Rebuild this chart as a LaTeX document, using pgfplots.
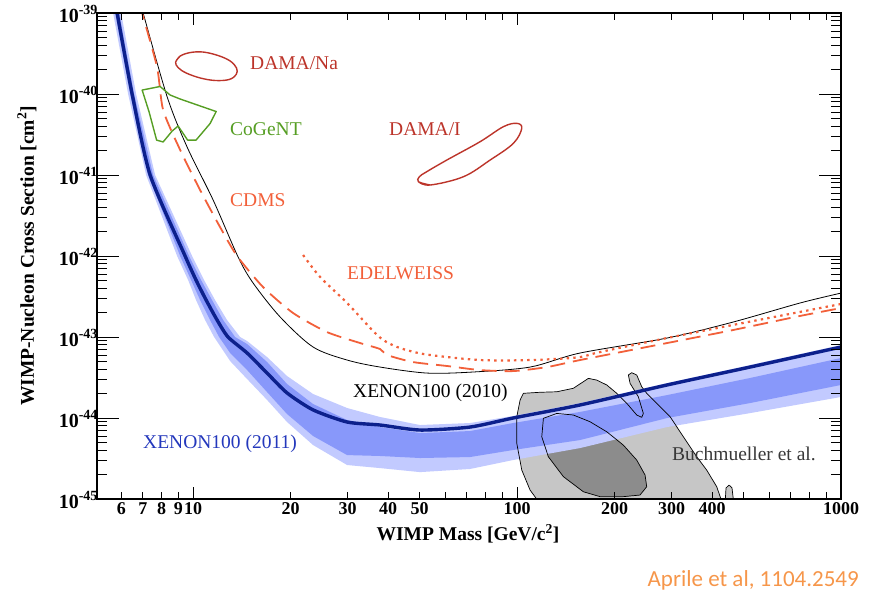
\documentclass[border=0pt]{standalone}
\usepackage{fontspec}
\setmainfont{Liberation Serif}
\newfontfamily\calibri{Carlito}
\usepackage{pgfplots}
\pgfplotsset{compat=1.18}

\definecolor{xenonblue}{RGB}{12,32,140}
\definecolor{bandlight}{RGB}{194,202,255}
\definecolor{banddark}{RGB}{136,152,250}
\definecolor{damared}{RGB}{188,52,42}
\definecolor{cogeant}{RGB}{86,158,36}
\definecolor{cdmsorange}{RGB}{242,96,58}
\definecolor{xenonlabel}{RGB}{36,56,188}
\definecolor{regionlight}{RGB}{198,198,198}
\definecolor{regiondark}{RGB}{140,140,140}
\definecolor{refnote}{RGB}{246,150,74}

% power-of-ten tick label
\newcommand{\pten}[1]{10\raisebox{0.42em}{\fontsize{14}{14}\selectfont #1}}

\begin{document}
\begin{tikzpicture}[x=1pt,y=1pt]
\useasboundingbox (0,0) rectangle (871,594);

% ---------------- data axis (y ticks) ----------------
\begin{axis}[
  at={(97pt,95pt)}, anchor=south west,
  scale only axis, width=744pt, height=486pt,
  xmode=log, ymode=log,
  xmin=5.05, xmax=1000, ymin=1e-45, ymax=1e-39,
  axis on top,
  axis line style={line width=1.2pt},
  every tick/.style={black, line width=0.9pt},
  tick align=inside,
  xtick=\empty, minor xtick={},
  ytick={1e-45,1e-44,1e-43,1e-42,1e-41,1e-40,1e-39},
  yticklabels={\pten{-45},\pten{-44},\pten{-43},\pten{-42},\pten{-41},\pten{-40},\pten{-39}},
  minor ytick={2e-45,3e-45,4e-45,5e-45,6e-45,7e-45,8e-45,9e-45,
               2e-44,3e-44,4e-44,5e-44,6e-44,7e-44,8e-44,9e-44,
               2e-43,3e-43,4e-43,5e-43,6e-43,7e-43,8e-43,9e-43,
               2e-42,3e-42,4e-42,5e-42,6e-42,7e-42,8e-42,9e-42,
               2e-41,3e-41,4e-41,5e-41,6e-41,7e-41,8e-41,9e-41,
               2e-40,3e-40,4e-40,5e-40,6e-40,7e-40,8e-40,9e-40},
  major tick length=22pt, minor tick length=10pt,
  yticklabel style={font=\fontsize{20}{20}\selectfont\bfseries, xshift=4pt, yshift=-1pt},
]

% Buchmueller et al. regions (fills)
\addplot[fill=regionlight, draw=none] coordinates {
 (118.6,8.43e-46) (109.7,1.29e-45) (103.4,2.28e-45) (99.8,4.87e-45) (99.8,1.04e-44)
 (102.2,1.67e-44) (104.6,2.02e-44) (117.8,2.08e-44) (132.6,2.11e-44) (149.2,2.33e-44)
 (160.2,2.81e-44) (166.0,3.09e-44) (176.2,2.94e-44) (189.2,2.56e-44) (203.1,2.02e-44)
 (218.1,1.52e-44) (234.1,1.09e-44) (242.6,1.02e-44) (245.4,1.14e-44) (236.8,1.83e-44)
 (223.3,2.68e-44) (220.6,3.40e-44) (225.9,3.63e-44) (234.1,3.40e-44) (242.6,2.43e-44)
 (251.3,2.02e-44) (269.9,1.52e-44) (296.7,1.04e-44) (326.1,5.88e-45) (358.6,3.33e-45)
 (385.0,2.28e-45) (413.4,1.42e-45) (432.3,8.43e-46)} -- cycle;
\addplot[fill=regionlight, draw=none] coordinates {
 (438.5,8.43e-46) (441.6,1.37e-45) (451.1,1.49e-45) (460.8,1.37e-45) (467.4,8.43e-46)} -- cycle;
\addplot[fill=regiondark, draw=none] coordinates {
 (120.6,9.92e-45) (132.6,1.14e-44) (149.2,1.09e-44) (168.0,9.00e-45) (189.2,6.77e-45)
 (212.8,4.64e-45) (234.1,3.03e-45) (248.4,1.98e-45) (251.3,1.42e-45) (239.6,1.12e-45)
 (212.8,1.07e-45) (180.4,1.07e-45) (160.2,1.23e-45) (139.0,1.89e-45) (124.9,3.33e-45)
 (119.2,5.88e-45)} -- cycle;

% XENON100 (2011) expected sensitivity bands (2 sigma, 1 sigma)
\addplot[fill=bandlight, draw=none] coordinates {
 (5.953,1.26e-39) (5.996,1e-39) (6.669,1e-40) (7.634,1e-41) (9.929,1e-42)
 (10.81,5.05e-43) (11.69,2.86e-43) (12.73,1.62e-43) (13.97,1e-43) (14.68,8.93e-44)
 (16.92,5.66e-44) (19.50,3.30e-44) (23.46,1.98e-44) (29.88,1.33e-44) (37.77,1.03e-44)
 (50.19,8.20e-45) (71.6,8.68e-45) (97.21,1.06e-44) (156.5,1.53e-44) (290.4,2.70e-44)
 (523.7,4.51e-44) (1000,7.96e-44)
 (1000,1.82e-44) (523.7,1.15e-44) (290.4,7.74e-45) (156.5,4.26e-45) (97.21,3.03e-45)
 (71.6,2.35e-45) (50.19,2.15e-45) (37.77,2.41e-45) (29.88,2.63e-45) (23.46,4.64e-45)
 (19.50,8.93e-45) (16.92,1.67e-44) (14.68,3.03e-44) (13.01,5.05e-44) (11.61,1e-43)
 (10.89,1.62e-43) (10.21,2.86e-43) (9.652,5.05e-43) (8.925,1e-42) (7.160,1e-41)
 (6.301,1e-40) (5.663,1e-39) (5.623,1.26e-39)} -- cycle;
\addplot[fill=banddark, draw=none] coordinates {
 (5.869,1.26e-39) (5.911,1e-39) (6.575,1e-40) (7.525,1e-41) (9.720,1e-42)
 (10.585,5.05e-43) (11.44,2.86e-43) (12.38,1.62e-43) (13.48,1e-43) (14.68,8.20e-44)
 (16.92,4.91e-44) (19.50,2.63e-44) (23.46,1.49e-44) (29.88,9.45e-45) (37.77,7.74e-45)
 (50.19,6.53e-45) (71.6,6.91e-45) (97.21,8.68e-45) (156.5,1.19e-44) (290.4,1.92e-44)
 (523.7,3.12e-44) (1000,5.51e-44)
 (1000,2.56e-44) (523.7,1.53e-44) (290.4,1e-44) (156.5,5.35e-45) (97.21,4.03e-45)
 (71.6,3.30e-45) (50.19,3.21e-45) (37.77,3.40e-45) (29.88,3.49e-45) (23.46,6.00e-45)
 (19.50,1.12e-44) (16.92,2.09e-44) (14.68,3.91e-44) (13.01,6.35e-44) (12.03,1e-43)
 (11.28,1.62e-43) (10.51,2.86e-43) (9.859,5.05e-43) (9.119,1e-42) (7.263,1e-41)
 (6.391,1e-40) (5.745,1e-39) (5.704,1.26e-39)} -- cycle;

% Buchmueller et al. contour outlines
\addplot[black, line width=0.7pt, line join=round] coordinates {
 (118.6,8.43e-46) (109.7,1.29e-45) (103.4,2.28e-45) (99.8,4.87e-45) (99.8,1.04e-44)
 (102.2,1.67e-44) (104.6,2.02e-44) (117.8,2.08e-44) (132.6,2.11e-44) (149.2,2.33e-44)
 (160.2,2.81e-44) (166.0,3.09e-44) (176.2,2.94e-44) (189.2,2.56e-44) (203.1,2.02e-44)
 (218.1,1.52e-44) (234.1,1.09e-44) (242.6,1.02e-44) (245.4,1.14e-44) (236.8,1.83e-44)
 (223.3,2.68e-44) (220.6,3.40e-44) (225.9,3.63e-44) (234.1,3.40e-44) (242.6,2.43e-44)
 (251.3,2.02e-44) (269.9,1.52e-44) (296.7,1.04e-44) (326.1,5.88e-45) (358.6,3.33e-45)
 (385.0,2.28e-45) (413.4,1.42e-45) (432.3,8.43e-46)};
\addplot[black, line width=0.7pt, line join=round] coordinates {
 (438.5,8.43e-46) (441.6,1.37e-45) (451.1,1.49e-45) (460.8,1.37e-45) (467.4,8.43e-46)};
\addplot[black, line width=0.7pt, line join=round] coordinates {
 (120.6,9.92e-45) (132.6,1.14e-44) (149.2,1.09e-44) (168.0,9.00e-45) (189.2,6.77e-45)
 (212.8,4.64e-45) (234.1,3.03e-45) (248.4,1.98e-45) (251.3,1.42e-45) (239.6,1.12e-45)
 (212.8,1.07e-45) (180.4,1.07e-45) (160.2,1.23e-45) (139.0,1.89e-45) (124.9,3.33e-45)
 (119.2,5.88e-45)} -- cycle;

% DAMA/Na and DAMA/I regions
\addplot[damared, line width=1.4pt, smooth, tension=0.6] coordinates {
 (8.831,2.48e-40) (9.119,2.94e-40) (9.789,3.25e-40) (10.74,3.30e-40) (11.94,2.99e-40)
 (13.01,2.56e-40) (13.62,2.09e-40) (13.58,1.74e-40) (12.91,1.51e-40) (11.69,1.47e-40)
 (10.51,1.58e-40) (9.515,1.82e-40) (8.990,2.12e-40) (8.831,2.48e-40) (9.119,2.94e-40)};
\addplot[damared, line width=1.4pt, smooth, tension=0.6] coordinates {
 (49.6,8.27e-42) (53.9,7.53e-42) (68.3,9.53e-42) (82.54,1.53e-41) (97.4,2.46e-41)
 (103.4,3.77e-41) (99.8,4.35e-41) (90.7,3.95e-41) (76.9,2.58e-41) (60.67,1.53e-41)
 (52.63,1.10e-41) (49.94,9.53e-42) (49.6,8.27e-42) (53.9,7.53e-42)};

% XENON100 (2010)
\addplot[black, line width=0.8pt, smooth, tension=0.5] coordinates {
 (6.897,1.26e-39) (7.010,1e-39) (8.32,9.18e-41) (9.58,2.22e-41) (11.53,4.91e-42)
 (13.77,9.72e-43) (15.32,4.64e-43) (18.56,1.77e-43) (23.46,7.53e-44) (29.88,5.20e-44)
 (37.77,4.26e-44) (52.76,3.59e-44) (73.1,3.70e-44) (109.7,4.26e-44) (156.5,6.35e-44)
 (290.4,9.72e-44) (464,1.53e-43) (747,2.63e-43) (1000,3.49e-43)};

% CDMS
\addplot[cdmsorange, line width=1.8pt, dash pattern=on 15pt off 8pt, smooth, tension=0.4] coordinates {
 (6.853,1.26e-39) (6.96,1e-39) (7.74,2.15e-40) (8.08,6.35e-41) (9.12,2.04e-41)
 (10.51,6.53e-42) (12.11,2.28e-42) (13.67,1e-42) (16.44,4.14e-43) (20.35,1.98e-43)
 (25.92,1.15e-43) (32.77,8.43e-44) (37.77,7.11e-44) (39.71,6.00e-44) (47.75,4.91e-44)
 (60.8,4.39e-44) (76.9,3.91e-44) (97.2,3.80e-44) (123.8,4.26e-44) (156.5,5.20e-44)
 (290.4,8.43e-44) (464,1.22e-43) (747,1.82e-43) (1000,2.28e-43)};

% EDELWEISS
\addplot[cdmsorange, line width=2.2pt, dash pattern=on 2.4pt off 4.2pt, smooth, tension=0.5] coordinates {
 (21.85,1.03e-42) (24.66,5.51e-43) (29.88,2.63e-43) (36.98,1.06e-43) (41.43,7.90e-44)
 (46.9,6.70e-44) (53.9,6.00e-44) (76.9,5.20e-44) (109.7,5.20e-44) (153.2,5.60e-44)
 (180.4,6.53e-44) (290.4,9.72e-44) (464,1.41e-43) (747,2.04e-43) (1000,2.56e-43)};

% CoGeNT
\addplot[cogeant, line width=1.4pt, line join=round] coordinates {
 (6.961,1.12e-40) (7.909,1.24e-40) (8.492,9.72e-41) (9.119,8.68e-41) (11.78,6.08e-41)
 (11.28,4.32e-41) (10.21,2.70e-41) (9.616,2.70e-41) (8.990,4.03e-41) (8.614,3.49e-41)
 (8.08,2.56e-41) (7.715,2.70e-41) (7.315,6.00e-41)} -- cycle;

% XENON100 (2011) limit
\addplot[xenonblue, line width=3.4pt, smooth, tension=0.4] coordinates {
 (5.785,1.26e-39) (5.827,1e-39) (6.482,1e-40) (7.367,1e-41) (9.447,1e-42)
 (10.21,5.05e-43) (10.97,2.86e-43) (11.86,1.62e-43) (12.82,1e-43) (14.68,6.35e-44)
 (16.92,3.59e-44) (19.50,2.04e-44) (23.46,1.26e-44) (29.88,8.93e-45) (37.77,8.20e-45)
 (50.19,7.11e-45) (71.6,7.74e-45) (97.21,1e-44) (156.5,1.45e-44) (290.4,2.56e-44)
 (523.7,4.26e-44) (1000,7.53e-44)};
\end{axis}

% ---------------- x tick axis ----------------
\begin{axis}[
  at={(97pt,95pt)}, anchor=south west,
  scale only axis, width=744pt, height=486pt,
  xmode=log, ymode=log,
  xmin=5.05, xmax=1000, ymin=1e-45, ymax=1e-39,
  axis line style={line width=1.2pt},
  every tick/.style={black, line width=0.9pt},
  tick align=inside,
  ytick=\empty, minor ytick={},
  xtick={10,100,1000}, xticklabels={10,100,1000},
  extra x ticks={6,7,8,9,20,30,40,50,200,300,400},
  extra x tick labels={6,7,8,9,20,30,40,50,200,300,400},
  extra x tick style={major tick length=7pt},
  minor xtick={60,70,80,90,500,600,700,800,900},
  major tick length=12pt, minor tick length=7pt,
  tick label style={font=\fontsize{18}{18}\selectfont\bfseries},
]
\end{axis}

% axis titles
\node[rotate=90, font=\fontsize{19.5}{20}\selectfont\bfseries] at (27,338)
  {WIMP-Nucleon Cross Section [cm\textsuperscript{2}]};
\node[anchor=base, inner sep=0pt, font=\fontsize{19.5}{20}\selectfont\bfseries] at (468,53)
  {WIMP Mass [GeV/c\textsuperscript{2}]};

% curve labels
\begin{scope}[every node/.style={anchor=base west, inner sep=0pt, font=\fontsize{19.5}{20}\selectfont}]
\node[text=damared] at (250,524.7) {DAMA/Na};
\node[text=cogeant] at (230,458) {CoGeNT};
\node[text=damared] at (389,458) {DAMA/I};
\node[text=cdmsorange] at (230,387) {CDMS};
\node[text=cdmsorange] at (347,314) {EDELWEISS};
\node[text=black] at (353,196.7) {XENON100 (2010)};
\node[text=xenonlabel] at (143,145.7) {XENON100 (2011)};
\node[text=black!78] at (672,133.3) {Buchmueller et al.};
\end{scope}

\node[anchor=base east, inner sep=0pt, text=refnote, font=\calibri\fontsize{23}{24}\selectfont] at (859,7)
  {Aprile et al, 1104.2549};
\end{tikzpicture}
\end{document}
